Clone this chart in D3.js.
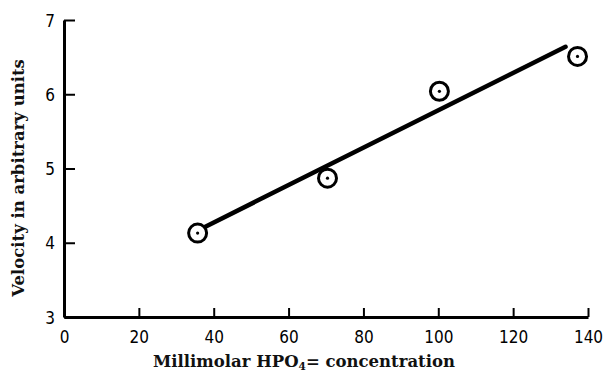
<!DOCTYPE html>
<html>
<head>
<meta charset="utf-8">
<script src="https://cdn.jsdelivr.net/npm/d3@7"></script>
<style>
	body { margin: 0; background: #fff; }
	svg { display: block; }
	.tick text { font-family: "Liberation Sans Narrow", "DejaVu Sans Condensed", sans-serif; font-size: 17px; fill: #000; }
	.label { font-family: "DejaVu Serif", "Liberation Serif", serif; font-weight: bold; font-size: 16.5px; fill: #111; }
</style>
</head>
<body>
<svg id="chart" width="603" height="374"></svg>
<script>
"use strict";

// measured points, mM HPO4= vs velocity
var concentration = [35.7, 70.4, 100.3, 137.2];
var velocity = [4.13, 4.87, 6.04, 6.51];

// fitted line, drawn by hand in the original
var fitX = [37.5, 134];
var fitY = [4.21, 6.64];

var xTicks = [0, 20, 40, 60, 80, 100, 120, 140];
var yTicks = [3, 4, 5, 6, 7];

var svg = d3.select("#chart");

var x = d3.scaleLinear().domain([0, 140]).range([64, 588]);
var y = d3.scaleLinear().domain([3, 7]).range([317, 20]);

// axes, ticks pointing inward
var xAxis = svg.append("g")
	.attr("transform", "translate(0," + y(3) + ")")
	.call(d3.axisBottom(x).tickValues(xTicks).tickFormat(d3.format("d")).tickSize(-9).tickPadding(14).tickSizeOuter(0));
var yAxis = svg.append("g")
	.attr("transform", "translate(" + x(0) + ",0)")
	.call(d3.axisLeft(y).tickValues(yTicks).tickFormat(d3.format("d")).tickSize(-11).tickPadding(9).tickSizeOuter(0));

xAxis.select(".domain").attr("stroke", "#000").attr("stroke-width", 3);
yAxis.select(".domain").attr("stroke", "#000").attr("stroke-width", 3);
xAxis.selectAll(".tick line").attr("stroke", "#000").attr("stroke-width", 2);
yAxis.selectAll(".tick line").attr("stroke", "#000").attr("stroke-width", 2);
yAxis.selectAll(".tick text").attr("dy", "0.36em");

// fit line
var line = d3.line()
	.x(function(d) { return x(d[0]); })
	.y(function(d) { return y(d[1]); });
svg.append("path")
	.datum(d3.zip(fitX, fitY))
	.attr("d", line)
	.attr("fill", "none")
	.attr("stroke", "#000")
	.attr("stroke-width", 4.5)
	.attr("stroke-linecap", "round");

// circled dot markers
var pts = svg.append("g").selectAll("g")
	.data(d3.zip(concentration, velocity))
	.join("g")
	.attr("transform", function(d) { return "translate(" + x(d[0]) + "," + y(d[1]) + ")"; });
pts.append("circle").attr("r", 9).attr("fill", "#fff").attr("stroke", "#000").attr("stroke-width", 3);
pts.append("circle").attr("r", 1.6).attr("fill", "#000");

// axis titles
var xl = svg.append("text")
	.attr("class", "label")
	.attr("x", 304)
	.attr("y", 367)
	.attr("text-anchor", "middle");
xl.append("tspan").text("Millimolar HPO");
xl.append("tspan").attr("font-size", "10.5px").attr("dy", 3).text("4");
xl.append("tspan").attr("dy", -3).text("= concentration");

svg.append("text")
	.attr("class", "label")
	.attr("transform", "translate(24,178) rotate(-90)")
	.attr("text-anchor", "middle")
	.text("Velocity in arbitrary units");
</script>
</body>
</html>
